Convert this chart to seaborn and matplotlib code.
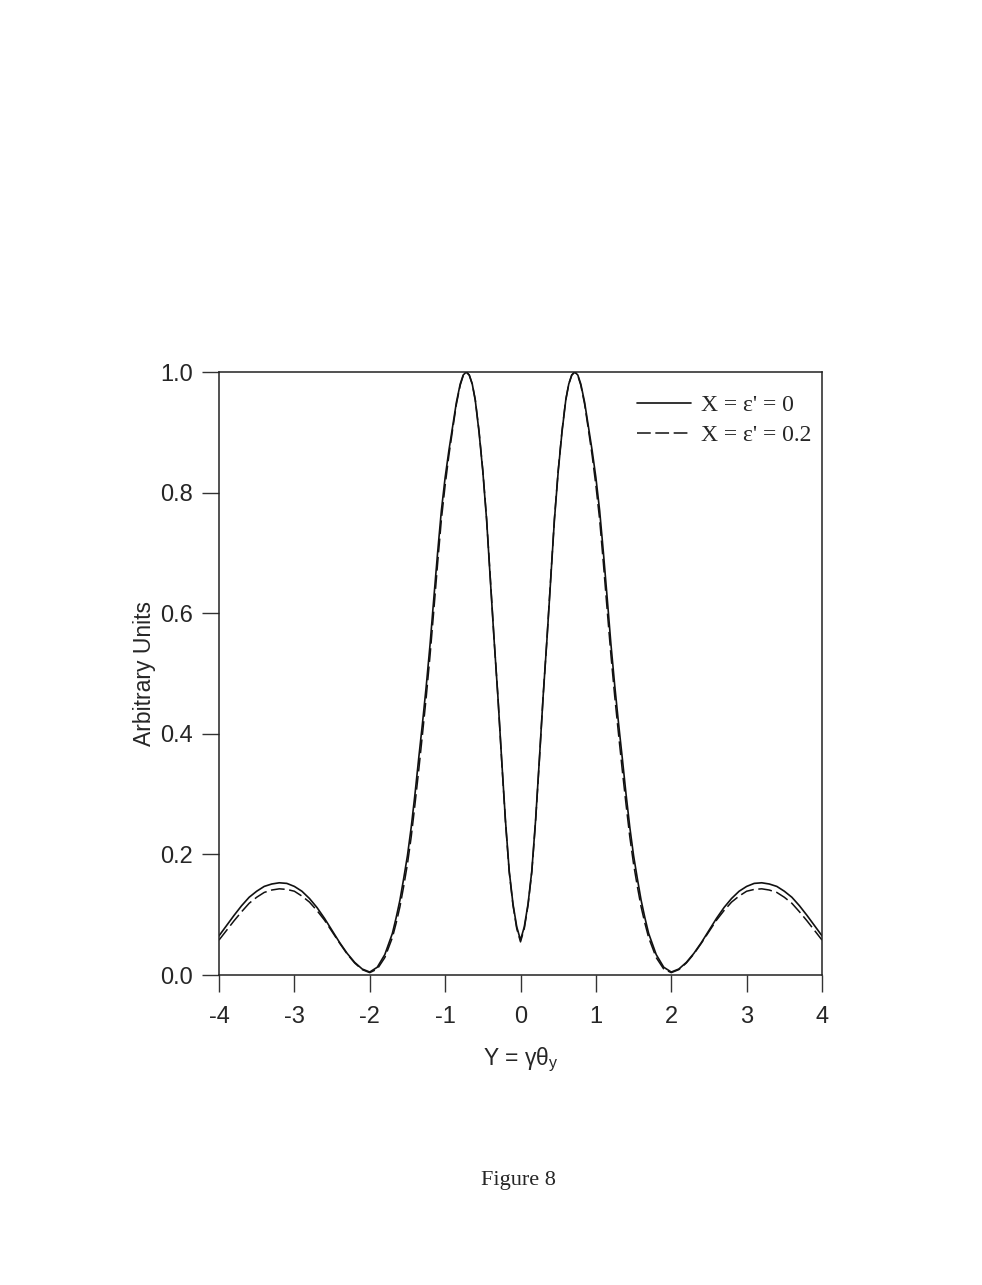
import numpy as np
import pandas as pd
import seaborn as sns
import matplotlib
matplotlib.use("Agg")
import matplotlib.pyplot as plt

# Data (angular distribution, two values of X)
y_theta = [-4.0, -3.9, -3.8, -3.7, -3.6, -3.5, -3.4, -3.3, -3.2, -3.1, -3.0, -2.9,
           -2.8, -2.7, -2.6, -2.5, -2.4, -2.3, -2.2, -2.1, -2.0, -1.9, -1.8, -1.7,
           -1.65, -1.6, -1.55, -1.5, -1.45, -1.4, -1.35, -1.3, -1.25, -1.2, -1.15, -1.1,
           -1.05, -1.0, -0.95, -0.9, -0.85, -0.8, -0.76, -0.72, -0.68, -0.64, -0.6, -0.55,
           -0.5, -0.45, -0.4, -0.35, -0.3, -0.25, -0.2, -0.15, -0.1, -0.05, 0.0,
           0.05, 0.1, 0.15, 0.2, 0.25, 0.3, 0.35, 0.4, 0.45, 0.5,
           0.55, 0.6, 0.64, 0.68, 0.72, 0.76, 0.8, 0.85, 0.9, 0.95, 1.0, 1.05,
           1.1, 1.15, 1.2, 1.25, 1.3, 1.35, 1.4, 1.45, 1.5, 1.55, 1.6, 1.65,
           1.7, 1.8, 1.9, 2.0, 2.1, 2.2, 2.3, 2.4, 2.5, 2.6, 2.7, 2.8,
           2.9, 3.0, 3.1, 3.2, 3.3, 3.4, 3.5, 3.6, 3.7, 3.8, 3.9, 4.0]

amp_x0 = [0.065, 0.082, 0.099, 0.115, 0.129, 0.139, 0.147, 0.151, 0.153, 0.152, 0.147, 0.139,
          0.127, 0.112, 0.094, 0.074, 0.054, 0.036, 0.021, 0.010, 0.005, 0.013, 0.034, 0.069,
          0.095, 0.124, 0.160, 0.198, 0.245, 0.300, 0.360, 0.418, 0.480, 0.548, 0.625, 0.700,
          0.770, 0.825, 0.870, 0.910, 0.950, 0.980, 0.995, 1.000, 0.995, 0.980, 0.953, 0.900,
          0.835, 0.755, 0.655, 0.555, 0.462, 0.357, 0.257, 0.173, 0.118, 0.080, 0.058,
          0.080, 0.118, 0.173, 0.257, 0.357, 0.462, 0.555, 0.655, 0.755, 0.835,
          0.900, 0.953, 0.980, 0.995, 1.000, 0.995, 0.980, 0.950, 0.910, 0.870, 0.825, 0.770,
          0.700, 0.625, 0.548, 0.480, 0.418, 0.360, 0.300, 0.245, 0.198, 0.160, 0.124, 0.095,
          0.069, 0.034, 0.013, 0.005, 0.010, 0.021, 0.036, 0.054, 0.074, 0.094, 0.112, 0.127,
          0.139, 0.147, 0.152, 0.153, 0.151, 0.147, 0.139, 0.129, 0.115, 0.099, 0.082, 0.065]

amp_x02 = [0.058, 0.074, 0.090, 0.105, 0.119, 0.129, 0.137, 0.141, 0.143, 0.142, 0.139, 0.131,
           0.121, 0.107, 0.091, 0.072, 0.053, 0.035, 0.020, 0.009, 0.004, 0.010, 0.029, 0.062,
           0.086, 0.113, 0.147, 0.184, 0.229, 0.283, 0.340, 0.400, 0.462, 0.530, 0.605, 0.682,
           0.755, 0.812, 0.862, 0.905, 0.947, 0.978, 0.994, 1.000, 0.995, 0.980, 0.954, 0.902,
           0.837, 0.757, 0.657, 0.556, 0.462, 0.356, 0.255, 0.171, 0.116, 0.077, 0.055,
           0.077, 0.116, 0.171, 0.255, 0.356, 0.462, 0.556, 0.657, 0.757, 0.837,
           0.902, 0.954, 0.980, 0.995, 1.000, 0.994, 0.978, 0.947, 0.905, 0.862, 0.812, 0.755,
           0.682, 0.605, 0.530, 0.462, 0.400, 0.340, 0.283, 0.229, 0.184, 0.147, 0.113, 0.086,
           0.062, 0.029, 0.010, 0.004, 0.009, 0.020, 0.035, 0.053, 0.072, 0.091, 0.107, 0.121,
           0.131, 0.139, 0.142, 0.143, 0.141, 0.137, 0.129, 0.119, 0.105, 0.090, 0.074, 0.058]

labels = ["X = ε' = 0", "X = ε' = 0.2"]
xticks = [-4, -3, -2, -1, 0, 1, 2, 3, 4]
yticks = [0.0, 0.2, 0.4, 0.6, 0.8, 1.0]

sns.set_style("ticks")
plt.rcParams['font.family'] = ['Liberation Sans', 'DejaVu Sans']
plt.rcParams['mathtext.fontset'] = 'custom'
plt.rcParams['mathtext.rm'] = 'Liberation Sans'

fig = plt.figure(figsize=(9.82, 12.85), dpi=100)
ax = fig.add_axes([0.2230, 0.2412, 0.6141, 0.4693])

sns.lineplot(x=y_theta, y=amp_x0, ax=ax, color='#111111', linewidth=1.2, label=labels[0])
sns.lineplot(x=y_theta, y=amp_x02, ax=ax, color='#111111', linewidth=1.1,
             linestyle=(0, (9, 3)), label=labels[1])

ax.set_xlim(-4, 4)
ax.set_ylim(0, 1)
ax.set_xticks(xticks)
ax.set_xticklabels([str(t) for t in xticks], fontsize=17)
ax.set_yticks(yticks)
ax.set_yticklabels([f"{t:.1f}" for t in yticks], fontsize=17)
ax.tick_params(axis='both', direction='out', length=12, width=1, color='#333333')
ax.tick_params(axis='x', pad=10)
ax.tick_params(axis='y', pad=7)
for s in ax.spines.values():
    s.set_linewidth(1.1)
    s.set_color('#222222')

ax.set_xlabel(r"Y = γθ$_{\mathregular{y}}$", fontsize=16.5, labelpad=13)
ax.set_ylabel("Arbitrary Units", fontsize=16.5, labelpad=3)

ax.legend(loc='upper left', bbox_to_anchor=(0.693, 0.962), frameon=False,
          prop={'family': 'Liberation Serif', 'size': 17},
          handlelength=2.3, handletextpad=0.42, labelspacing=0.33,
          borderpad=0, borderaxespad=0)

fig.text(0.5275, 0.0812, "Figure 8", ha='center', va='center',
         fontfamily='Liberation Serif', fontsize=16)

plt.savefig("out.png", dpi=100)
